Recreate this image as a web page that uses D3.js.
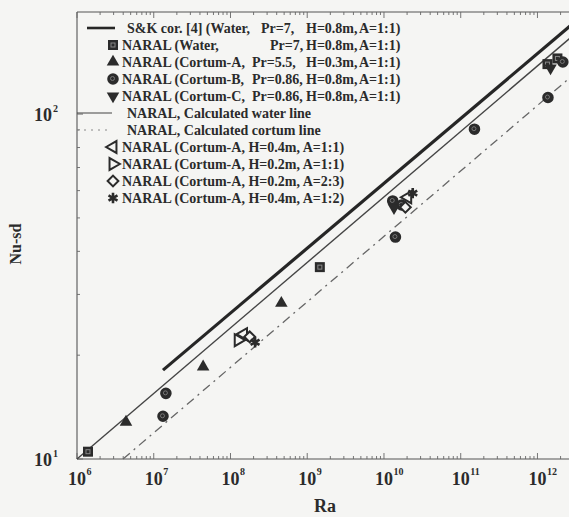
<!DOCTYPE html>
<html>
<head>
<meta charset="utf-8">
<script src="https://cdn.jsdelivr.net/npm/d3@7"></script>
<style>
  html, body { margin: 0; padding: 0; background: #f5f5f3; }
  svg { display: block; }
</style>
</head>
<body>
<div id="chart"></div>
<script>
/* Data (Ra, Nu-sd) */
const waterRa = [1.39e6, 1.46e9, 1.35e12, 1.82e12];
const waterNu = [10.5, 36.0, 139.6, 145];
const cortumARa = [4.35e6, 4.4e7, 4.6e8];
const cortumANu = [12.8, 18.5, 28.3];
const cortumBRa = [1.44e7, 1.32e7, 1.30e10, 1.70e10, 1.41e10, 1.51e11, 1.37e12, 2.14e12];
const cortumBNu = [15.5, 13.3, 56, 54.5, 44, 90.4, 111.7, 141.6];
const cortumCRa = [1.35e10, 1.48e12];
const cortumCNu = [53.5, 136];
const h04Ra = [1.48e8, 2.04e10];
const h04Nu = [23.0, 57.4];
const h02Ra = [1.26e8];
const h02Nu = [22.1];
const a23Ra = [1.78e8, 1.9e10];
const a23Nu = [22.6, 53.7];
const a12Ra = [2.09e8, 2.37e10];
const a12Nu = [21.8, 59];

// correlation / calculated lines (end points)
const skLineRa = [1.32e7, 2.82e12];
const skLineNu = [18.1, 182];
const waterLineRa = [1e6, 2.82e12];
const waterLineNu = [10, 168];
const cortumLineRa = [3.98e6, 2.82e12];
const cortumLineNu = [10, 129];

const xTickExp = [6, 7, 8, 9, 10, 11, 12];
const yTickExp = [1, 2];

const legendRows = [
  { kind: 'thick', parts: ['S&K cor. [4] (Water,', 'Pr=7,', 'H=0.8m,', 'A=1:1)'] },
  { kind: 'square', parts: ['NARAL (Water,', 'Pr=7,', 'H=0.8m,', 'A=1:1)'] },
  { kind: 'triangle', parts: ['NARAL (Cortum-A,', 'Pr=5.5,', 'H=0.3m,', 'A=1:1)'] },
  { kind: 'circle', parts: ['NARAL (Cortum-B,', 'Pr=0.86,', 'H=0.8m,', 'A=1:1)'] },
  { kind: 'tridown', parts: ['NARAL (Cortum-C,', 'Pr=0.86,', 'H=0.8m,', 'A=1:1)'] },
  { kind: 'thin', parts: ['NARAL, Calculated water line'] },
  { kind: 'dash', parts: ['NARAL, Calculated cortum line'] },
  { kind: 'left', parts: ['NARAL (Cortum-A, H=0.4m, A=1:1)'] },
  { kind: 'right', parts: ['NARAL (Cortum-A, H=0.2m, A=1:1)'] },
  { kind: 'diamond', parts: ['NARAL (Cortum-A, H=0.2m, A=2:3)'] },
  { kind: 'star', parts: ['NARAL (Cortum-A, H=0.4m, A=1:2)'] }
];

const INK = '#2b2b2b';
const FONT = "'Liberation Serif', 'DejaVu Serif', serif";
const width = 569;
const height = 517;
const plot = { left: 77, top: 12, bottom: 459, right: 572 };

const svg = d3.select('#chart')
  .append('svg')
  .attr('width', width)
  .attr('height', height)
  .style('font-family', FONT)
  .style('font-weight', 'bold');

svg.append('rect').attr('width', width).attr('height', height).attr('fill', '#f5f5f3');

const x = d3.scaleLog().domain([1e6, Math.pow(10, 12.45)]).range([plot.left, plot.right]);
const y = d3.scaleLog().domain([10, Math.pow(10, 2.296)]).range([plot.bottom, plot.top]);

// frame
const frame = svg.append('g').attr('stroke', '#555').attr('stroke-width', 1.1).attr('fill', 'none');
frame.append('line').attr('x1', plot.left).attr('x2', plot.right).attr('y1', plot.bottom).attr('y2', plot.bottom);
frame.append('line').attr('x1', plot.left).attr('x2', plot.right).attr('y1', plot.top).attr('y2', plot.top);
frame.append('line').attr('x1', plot.left).attr('x2', plot.left).attr('y1', plot.top).attr('y2', plot.bottom);

// inward ticks: bottom and top
const xMinor = [];
for (let e = 6; e <= 12; e++) {
  for (let m = 1; m < 10; m++) {
    const v = m * Math.pow(10, e);
    if (v <= x.domain()[1]) xMinor.push(v);
  }
}
const tickG = svg.append('g').attr('stroke', '#666').attr('stroke-width', 0.9);
[plot.bottom, plot.top].forEach((y0, i) => {
  const dir = i === 0 ? -1 : 1;
  tickG.selectAll(null)
    .data(xMinor)
    .join('line')
    .attr('x1', (d) => x(d))
    .attr('x2', (d) => x(d))
    .attr('y1', y0)
    .attr('y2', (d) => y0 + dir * (Math.log10(d) % 1 === 0 ? 6 : 3));
});
const yMinor = [];
for (let e = 1; e <= 2; e++) {
  for (let m = 1; m < 10; m++) {
    const v = m * Math.pow(10, e);
    if (v <= y.domain()[1]) yMinor.push(v);
  }
}
tickG.selectAll(null)
  .data(yMinor)
  .join('line')
  .attr('y1', (d) => y(d))
  .attr('y2', (d) => y(d))
  .attr('x1', plot.left)
  .attr('x2', (d) => plot.left + (Math.log10(d) % 1 === 0 ? 6 : 3));

// tick labels
const xLab = svg.append('g').attr('fill', INK);
xTickExp.forEach((e) => {
  const px = x(Math.pow(10, e));
  xLab.append('text').attr('x', px).attr('y', 485).attr('text-anchor', 'middle')
    .style('font-size', '18px').text('10');
  xLab.append('text').attr('x', px + 9.5).attr('y', 475).attr('text-anchor', 'start')
    .style('font-size', '10px').text(e);
});
yTickExp.forEach((e) => {
  const py = y(Math.pow(10, e));
  xLab.append('text').attr('x', 52).attr('y', py + 7).attr('text-anchor', 'end')
    .style('font-size', '18px').text('10');
  xLab.append('text').attr('x', 53).attr('y', py - 2).attr('text-anchor', 'start')
    .style('font-size', '10px').text(e);
});

// axis titles
svg.append('text').attr('x', 325).attr('y', 512).attr('text-anchor', 'middle')
  .attr('fill', INK).style('font-size', '18px').text('Ra');
svg.append('text').attr('transform', 'translate(21,244) rotate(-90)').attr('text-anchor', 'middle')
  .attr('fill', INK).style('font-size', '16px').text('Nu-sd');

// lines
const line = d3.line().x((d) => x(d[0])).y((d) => y(d[1]));
const linesG = svg.append('g').attr('fill', 'none');
linesG.append('path')
  .datum(d3.zip(skLineRa, skLineNu))
  .attr('d', line).attr('stroke', '#262626').attr('stroke-width', 3.2);
linesG.append('path')
  .datum(d3.zip(waterLineRa, waterLineNu))
  .attr('d', line).attr('stroke', '#444').attr('stroke-width', 1.4);
linesG.append('path')
  .datum(d3.zip(cortumLineRa, cortumLineNu))
  .attr('d', line).attr('stroke', '#666').attr('stroke-width', 1.3)
  .attr('stroke-dasharray', '9,5,2,5');

// markers
const sym = {
  square: { type: d3.symbolSquare, size: 100, rot: 0, open: false },
  triangle: { type: d3.symbolTriangle, size: 68, rot: 0, open: false },
  circle: { type: d3.symbolCircle, size: 105, rot: 0, open: false },
  tridown: { type: d3.symbolTriangle, size: 68, rot: 180, open: false },
  left: { type: d3.symbolTriangle, size: 62, rot: -90, open: true },
  right: { type: d3.symbolTriangle, size: 62, rot: 90, open: true },
  diamond: { type: d3.symbolSquare, size: 58, rot: 45, open: true },
  star: { type: d3.symbolAsterisk, size: 75, rot: 0, open: true }
};

function drawMarker (g, kind, px, py) {
  const s = sym[kind];
  const path = g.append('path')
    .attr('d', d3.symbol(s.type, s.size)())
    .attr('transform', `translate(${px},${py}) rotate(${s.rot})`);
  if (s.open) {
    path.attr('fill', kind === 'star' ? 'none' : '#f5f5f3').attr('stroke', INK).attr('stroke-width', kind === 'star' ? 2.6 : 2);
  } else {
    path.attr('fill', INK);
  }
  if (kind === 'square') {
    g.append('rect').attr('x', px - 2).attr('y', py - 2).attr('width', 4).attr('height', 4)
      .attr('fill', 'none').attr('stroke', '#888').attr('stroke-width', 1);
  }
  if (kind === 'circle') {
    g.append('circle').attr('cx', px - 0.5).attr('cy', py - 0.5).attr('r', 2)
      .attr('fill', 'none').attr('stroke', '#777').attr('stroke-width', 1);
  }
}

const series = [
  ['square', waterRa, waterNu],
  ['triangle', cortumARa, cortumANu],
  ['circle', cortumBRa, cortumBNu],
  ['tridown', cortumCRa, cortumCNu],
  ['right', h02Ra, h02Nu],
  ['left', h04Ra, h04Nu],
  ['diamond', a23Ra, a23Nu],
  ['star', a12Ra, a12Nu]
];
const markG = svg.append('g');
series.forEach(([kind, ras, nus]) => {
  ras.forEach((ra, i) => drawMarker(markG, kind, x(ra), y(nus[i])));
});

// legend
const legend = svg.append('g').attr('fill', INK).style('font-size', '14px');
const colX = [null, 252, 306, 359];
legendRows.forEach((row, i) => {
  const ry = 28 + 17 * i;
  let tx = 122;
  if (row.kind === 'thick') {
    legend.append('line').attr('x1', 87).attr('x2', 115).attr('y1', ry).attr('y2', ry)
      .attr('stroke', '#262626').attr('stroke-width', 2.6);
    tx = 127;
  } else if (row.kind === 'thin') {
    legend.append('line').attr('x1', plot.left).attr('x2', 112).attr('y1', ry).attr('y2', ry)
      .attr('stroke', '#444').attr('stroke-width', 1.2);
    tx = 127;
  } else if (row.kind === 'dash') {
    legend.append('line').attr('x1', plot.left).attr('x2', 112).attr('y1', ry).attr('y2', ry)
      .attr('stroke', '#888').attr('stroke-width', 1).attr('stroke-dasharray', '2,5');
    tx = 127;
  } else {
    drawMarker(legend, row.kind, 113, ry);
  }
  const text = legend.append('text').attr('y', ry + 5);
  row.parts.forEach((p, j) => {
    let px = j === 0 ? tx : colX[j];
    if (row.kind === 'thick' && j === 1) px = 261;
    if (row.kind === 'square' && j === 1) px = 270;
    text.append('tspan').attr('x', px).text(p);
  });
});
</script>
</body>
</html>
